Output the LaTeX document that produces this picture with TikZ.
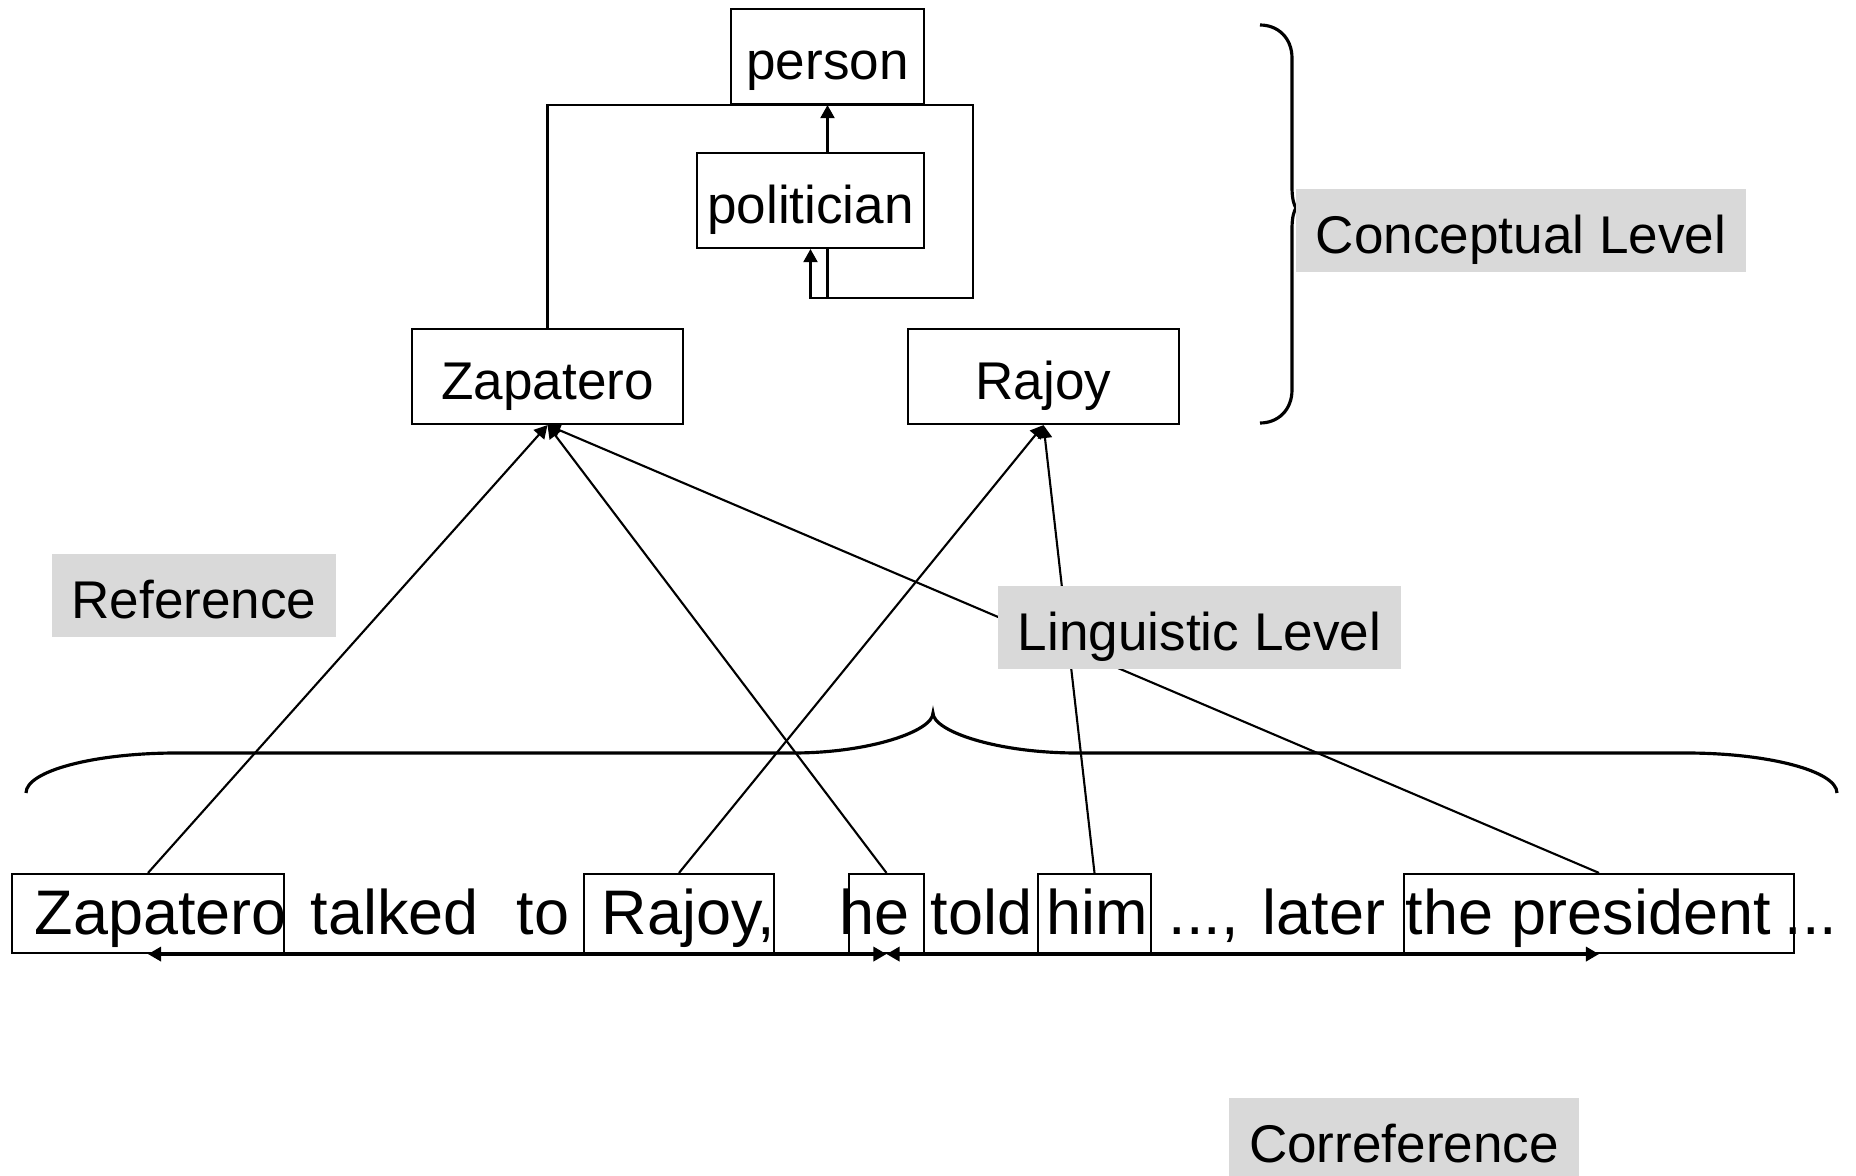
\documentclass[tikz,border=0pt]{standalone}
\usepackage{fontspec}
\setmainfont{Liberation Sans}
\usetikzlibrary{arrows.meta}
\definecolor{lblgray}{RGB}{217,217,217}
\newcommand{\thdots}{...}

\begin{document}
\begin{tikzpicture}[x=0.01cm, y=-0.01cm,
  concept/.style={draw, line width=0.6pt, minimum height=9.5mm, inner sep=0pt, text height=4.5mm, text depth=0pt, font=\fontsize{15.1}{18}\selectfont},
  wbox/.style={draw, line width=0.6pt, minimum height=7.9mm, inner sep=0pt},
  word/.style={anchor=base west, inner sep=0pt, font=\fontsize{17.9}{21}\selectfont},
  lvl/.style={fill=lblgray, minimum height=8.3mm, inner sep=0pt, text height=4.5mm, text depth=0pt, font=\fontsize{15.1}{18}\selectfont},
  link/.style={line width=0.6pt, -{Triangle[length=1.3mm, width=1.4mm]}},
  coref/.style={line width=0.9pt, {Triangle[length=1.3mm, width=1.4mm]}-{Triangle[length=1.3mm, width=1.4mm]}},
  brace/.style={line width=0.9pt}]
\useasboundingbox (0,0) rectangle (1856,1176);
% Conceptual level
\node[concept, minimum width=19.3mm] (pers) at (827.5,56.5) {person};
\node[concept, minimum width=22.7mm] (pol) at (810.5,200.5) {politician};
\node[concept, minimum width=27.1mm] (zap) at (547.5,376.5) {Zapatero};
\node[concept, minimum width=27.1mm] (raj) at (1043.5,376.5) {Rajoy};
\coordinate (corner) at (973,298);
% Sentence and mention boxes
\foreach \x/\w [count=\i] in {34/Zapatero, 310/talked, 516/to, 601/{Rajoy,}, 839/he, 930/told,
    1046/him, 1168/{\thdots,}, 1262/later, 1405/the, 1511/president, 1784/\thdots}
  \node[word] (w\i) at (\x,935) {\w};
\node[wbox, minimum width=27.25mm] (bZap) at (148,913.5) {};
\node[wbox, minimum width=19mm] (bRaj) at (679,913.5) {};
\node[wbox, minimum width=7.5mm] (bHe) at (886.5,913.5) {};
\node[wbox, minimum width=11.3mm] (bHim) at (1094.5,913.5) {};
\node[wbox, minimum width=39mm] (bPres) at (1599,913.5) {};
% Is-a links
\draw[link] (zap.north) |- (corner |- pers.south) -- (corner) -| (pol.south);
\draw[line width=0.6pt] (pers.south |- pol.south) -- (pers.south |- corner);
\draw[link] (pers.south |- pol.north) -- (pers.south);
% Reference links
\draw[link] (bZap.north) -- (zap.south);
\draw[link] (bHe.north) -- (zap.south);
\draw[link] (bPres.north) -- (zap.south);
\draw[link] (bRaj.north) -- (raj.south);
\draw[link] (bHim.north) -- (raj.south);
% Coreference chain
\draw[coref] (bZap.south) -- (bHe.south);
\draw[coref] (bHe.south) -- (bPres.south);
% Braces
\draw[brace] (1260,25) .. controls (1278,25) and (1292,38) .. (1292,58) -- (1292,187)
  .. controls (1292,199) and (1294,205) .. (1296,208) .. controls (1294,211) and (1292,217) .. (1292,229)
  -- (1292,390) .. controls (1292,410) and (1278,423) .. (1260,423);
\draw[brace] (26,793) .. controls (26,771) and (94,753) .. (177,753) -- (793,753)
  .. controls (870,753) and (933,731) .. (933,713) .. controls (933,731) and (996,753) .. (1077,753)
  -- (1686,753) .. controls (1768,753) and (1837,771) .. (1837,793);
% Level labels
\node[lvl, minimum width=45mm] (lConc) at (1521,230.5) {Conceptual Level};
\node[lvl, minimum width=28.4mm] (lRef) at (194,595.5) {Reference};
\node[lvl, minimum width=40.3mm] (lLing) at (1199.5,627.5) {Linguistic Level};
\node[lvl, minimum width=35mm] (lCoref) at (1404,1139.5) {Correference};
\end{tikzpicture}
\end{document}
